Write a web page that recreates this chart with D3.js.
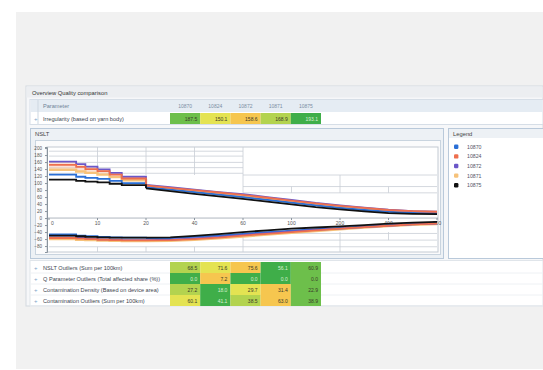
<!DOCTYPE html>
<html><head><meta charset="utf-8">
<script src="https://cdn.jsdelivr.net/npm/d3@7"></script>
<style>body{margin:0;background:#fff}svg{display:block;font-family:"Liberation Sans",Arial,sans-serif}</style>
</head><body><svg id="c" width="543" height="370"></svg>
<script>
// ---------- data ----------
const seriesNames = ["10870","10824","10872","10871","10875"];
const seriesColors = ["#2a6fd6","#ee6f4e","#6b57c8","#f6c27a","#111111"];
const xTickLabels = ["0","10","20","40","60","100","200","400","800"];
const yTicksUpper = [0,20,40,60,80,100,120,140,160,180,200];
const yTicksLower = [-20,-40,-60,-80];
const xs = [0,0.5,0.56,0.75,1,1.25,1.5,2,2.5,3,3.5,4,4.5,5,5.5,6,6.5,7,7.5,8];
const upper10870 = [124,124,118,115,112,106,100,88,81,74,67,60,52,44,36,29,23,18,15,13];
const upper10824 = [152,152,146,140,134,124,113,93,86,80,73,66,58,50,42,35,29,23,20,18];
const upper10872 = [161,161,154,147,139,129,118,95,88,81,74,68,60,52,43,36,30,24,20,18];
const upper10871 = [138,138,133,129,124,117,108,90,83,77,70,63,55,47,39,32,26,21,18,16];
const upper10875 = [110,110,106,104,102,98,94,85,77,69,62,55,47,39,31,25,19,14,12,11];
const lower10870 = [-47,-47,-50,-52,-54,-55,-56,-57,-57,-54,-50,-45,-40,-36,-32,-28,-24,-20,-17,-15];
const lower10824 = [-57,-57,-59,-60,-62,-63,-64,-64,-63,-60,-56,-50,-45,-40,-35,-30,-26,-22,-18,-16];
const lower10872 = [-55,-55,-57,-59,-61,-62,-63,-63,-62,-58,-54,-48,-43,-38,-34,-30,-26,-22,-18,-16];
const lower10871 = [-60,-60,-62,-63,-64,-65,-66,-66,-65,-62,-58,-53,-47,-42,-37,-32,-27,-23,-19,-17];
const lower10875 = [-50,-50,-52,-54,-55,-56,-56,-56,-55,-51,-46,-40,-35,-30,-27,-24,-20,-16,-13,-11];
const upperSeries = [upper10870,upper10824,upper10872,upper10871,upper10875];
const lowerSeries = [lower10870,lower10824,lower10872,lower10871,lower10875];
// class grid segments [x1,v1,x2,v2]
const gridSegments = [
 [0,191,4,191],[0,177,4,177],[0,159,4,159],[0,144,4,144],[0,128,4,128],
 [4,123,8,123],[4,90,8,90],[4,72,8,72],
 [1,123,1,203],[2,123,2,203],[3,123,3,203],[4,72,4,203],[6,72,6,123],[5,72,5,90],[7,72,7,90],
 [4,-44,8,-44],[4,-63,8,-63],[0,-82,8,-82],
 [1,-82,1,-97],[2,-82,2,-97],[3,-82,3,-97],[4,-40,4,-97],[6,-40,6,-97],[7,-40,7,-63]
];
const tableParams = ["Irregularity (based on yarn body)"];
const irregValues = ["187.5","150.1","158.6","168.9","193.1"];
const irregRating = [1,3,4,2,0];
const bottomParams = ["NSLT Outliers (Sum per 100km)","Q Parameter Outliers (Total affected share (%))","Contamination Density (Based on device area)","Contamination Outliers (Sum per 100km)"];
const bottomValues = [["68.5","71.6","75.6","56.1","60.9"],["0.0","7.2","0.0","0.0","0.0"],["27.2","18.0","29.7","31.4","22.9"],["60.1","41.1","38.5","63.0","38.9"]];
const bottomRating = [[2,3,4,0,1],[0,4,0,0,1],[2,0,3,4,1],[3,0,2,4,1]];
const ratingColors = ["#3fae49","#6dbf4b","#b3d34f","#e4e352","#f6c64f"];

// ---------- drawing ----------
const svg = d3.select("#c");
const txt = (x,y,s,o={}) => svg.append("text").attr("x",x).attr("y",y).text(s)
  .attr("font-size",o.fs||5.6).attr("fill",o.fill||"#3c4550").attr("text-anchor",o.anchor||"start");
svg.append("rect").attr("width",543).attr("height",370).attr("fill","#fff");
svg.append("rect").attr("x",16).attr("y",12).attr("width",527).attr("height",357).attr("fill","#f1f1f1");
svg.append("rect").attr("x",26).attr("y",86).attr("width",517).attr("height",220).attr("fill","#f6f7f9").attr("stroke","#d3d9df");
svg.append("rect").attr("x",26.5).attr("y",86.5).attr("width",516).attr("height",11).attr("fill","#eceef1");
txt(32,94.5,"Overview Quality comparison",{fs:5.8,fill:"#333"});

const rate = d3.scaleOrdinal().domain([0,1,2,3,4]).range(ratingColors);
const colX = d3.scaleBand().domain(d3.range(5)).range([170,321]);

svg.append("rect").attr("x",30).attr("y",99.5).attr("width",513).attr("height",25).attr("fill","#fff").attr("stroke","#d6dee7");
svg.append("rect").attr("x",30.5).attr("y",100).attr("width",512).attr("height",12).attr("fill","#e5ecf3");
svg.append("line").attr("x1",38).attr("x2",38).attr("y1",100).attr("y2",124).attr("stroke","#cdd7e1");
txt(43,108,"Parameter",{fill:"#6f8297"});
seriesNames.forEach((n,i)=>txt(colX(i)+colX.bandwidth()/2,108,n,{anchor:"middle",fill:"#7b8ea3",fs:5}));
svg.selectAll(".ir").data(irregValues).join("rect").attr("x",(d,i)=>colX(i)).attr("y",113).attr("width",colX.bandwidth()).attr("height",11).attr("fill",(d,i)=>rate(irregRating[i]));
irregValues.forEach((v,i)=>txt(colX(i)+colX.bandwidth()-3,120.5,v,{anchor:"end",fs:5,fill:irregRating[i]===0?"#d9f0d2":"#3a3a2a"}));
txt(34,120.5,"+",{fill:"#7ea3c8",fs:6});
txt(43,120.5,tableParams[0],{fs:5.6});

// chart panel
svg.append("rect").attr("x",30.5).attr("y",128.5).attr("width",413).attr("height",130).attr("fill","#edf1f5").attr("stroke","#b9c9da");
txt(35,136,"NSLT",{fs:5.8,fill:"#444"});
svg.append("rect").attr("x",35.5).attr("y",140.5).attr("width",405).attr("height",114).attr("fill","#fbfbfc").attr("stroke","#c9d4df");

const x = d3.scaleLinear().domain([0,8]).range([49,437]);
const y = d3.scaleLinear().domain([-97,203]).range([252,147]);
svg.append("rect").attr("x",47).attr("y",147).attr("width",391).attr("height",105).attr("fill","#fff").attr("stroke","#c3cad2");
svg.append("g").selectAll("line").data(gridSegments).join("line")
  .attr("x1",d=>x(d[0])).attr("y1",d=>y(d[1])).attr("x2",d=>x(d[2])).attr("y2",d=>y(d[3]))
  .attr("stroke","#c9ced6").attr("stroke-width",0.8);
svg.append("line").attr("x1",47).attr("x2",438).attr("y1",y(0)).attr("y2",y(0)).attr("stroke","#9aa3ad").attr("stroke-width",0.8);
const yAxis = d3.axisLeft(y).tickValues(yTicksUpper.concat(yTicksLower)).tickSize(2).tickFormat(d3.format("d"));
const gy = svg.append("g").attr("transform","translate(47,0)").call(yAxis);
gy.selectAll("text").attr("font-size",4.6).attr("fill","#555");
gy.selectAll("line,path").attr("stroke","#8a949e");
const gx = svg.append("g");
xTickLabels.forEach((t,i)=>{
  gx.append("line").attr("x1",x(i)).attr("x2",x(i)).attr("y1",y(0)).attr("y2",y(0)+2).attr("stroke","#8a949e");
  txt(x(i)+(i===0?2:0),y(0)+7,t,{anchor:i===0?"start":"middle",fs:5,fill:"#555"});
});
const pts = (arr)=>xs.map((v,i)=>[v,arr[i]]);
const head = d=>d.slice(0,8), tail = d=>d.slice(7);
svg.append("path").datum(head(xs.map((v,i)=>[v,upper10872[i],upper10871[i]])))
  .attr("d",d3.area().x(d=>x(d[0])).y0(d=>y(d[2])).y1(d=>y(d[1])).curve(d3.curveStepAfter))
  .attr("fill","#f7c9b0").attr("opacity",0.55);
const stepLine = d3.line().x(d=>x(d[0])).y(d=>y(d[1])).curve(d3.curveStepAfter);
const linLine = d3.line().x(d=>x(d[0])).y(d=>y(d[1]));
const order = [3,0,2,1,4];
order.forEach(k=>{
  [upperSeries[k],lowerSeries[k]].forEach(arr=>{
    const p = pts(arr);
    const w = k===3?2.4:1.8;
    svg.append("path").datum(head(p)).attr("d",stepLine).attr("fill","none").attr("stroke",seriesColors[k]).attr("stroke-width",w);
    svg.append("path").datum(tail(p)).attr("d",linLine).attr("fill","none").attr("stroke",seriesColors[k]).attr("stroke-width",w);
  });
});

// legend
svg.append("rect").attr("x",448.5).attr("y",128.5).attr("width",95).attr("height",130).attr("fill","#fff").attr("stroke","#b9c9da");
svg.append("rect").attr("x",449).attr("y",129).attr("width",94).attr("height",9).attr("fill","#edf1f5");
txt(453,136,"Legend",{fs:5.8,fill:"#444"});
const ly = d3.scaleBand().domain(d3.range(5)).range([142,190]);
seriesNames.forEach((n,i)=>{
  svg.append("rect").attr("x",454).attr("y",ly(i)+ly.bandwidth()/2-2.2).attr("width",4.4).attr("height",4.4).attr("rx",1.2).attr("fill",seriesColors[i]);
  txt(467,ly(i)+ly.bandwidth()/2+2,n,{fs:5.2,fill:"#556"});
});

// bottom table
svg.append("rect").attr("x",30).attr("y",260.5).attr("width",513).attr("height",45).attr("fill","#fff").attr("stroke","#e0e5ea");
const ry = d3.scaleBand().domain(d3.range(4)).range([262,306]);
bottomParams.forEach((p,r)=>{
  svg.append("line").attr("x1",30).attr("x2",543).attr("y1",ry(r)+ry.bandwidth()).attr("y2",ry(r)+ry.bandwidth()).attr("stroke","#eef1f4");
  txt(34,ry(r)+8,"+",{fill:"#7ea3c8",fs:6});
  txt(43,ry(r)+7.8,p,{fs:5.6});
  bottomValues[r].forEach((v,i)=>{
    svg.append("rect").attr("x",colX(i)).attr("y",ry(r)).attr("width",colX.bandwidth()).attr("height",ry.bandwidth()).attr("fill",rate(bottomRating[r][i]));
    txt(colX(i)+colX.bandwidth()-3,ry(r)+7.8,v,{anchor:"end",fs:5,fill:bottomRating[r][i]===0?"#d9f0d2":"#3a3a2a"});
  });
});
</script></body></html>
